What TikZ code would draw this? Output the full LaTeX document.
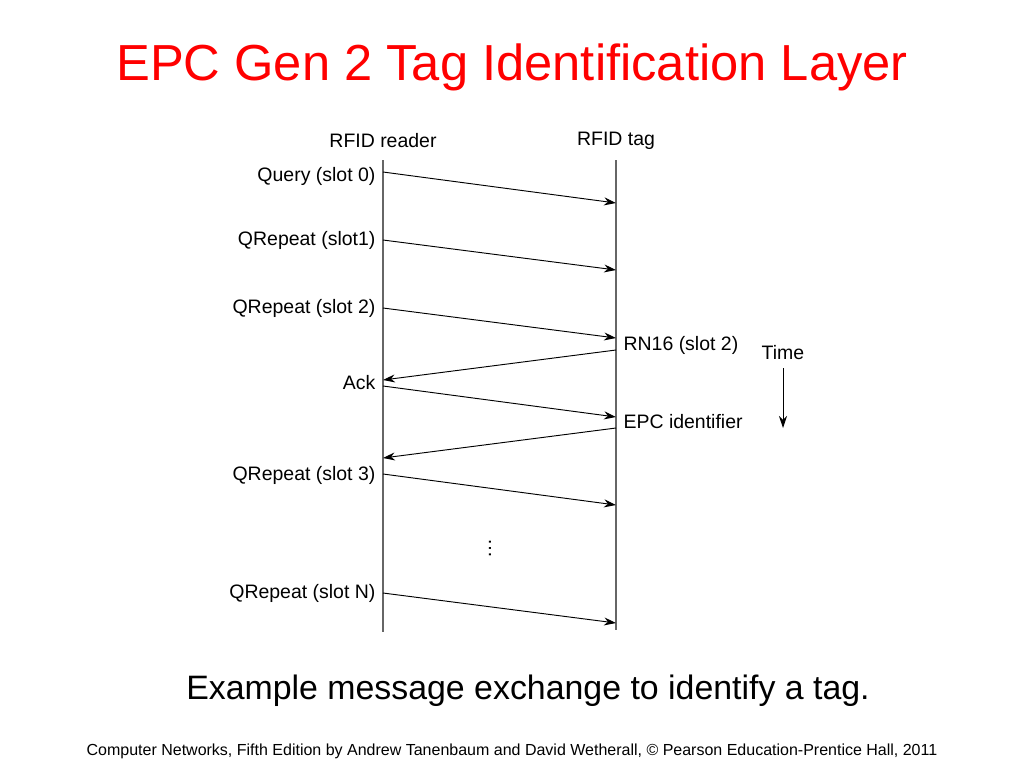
\documentclass[tikz,border=0pt]{standalone}
\usepackage{fontspec}
\setmainfont{Liberation Sans}
\usetikzlibrary{arrows.meta}
\begin{document}
\begin{tikzpicture}[x=0.75pt,y=-0.75pt,
  lbl/.style={font=\fontsize{14.6}{16}\selectfont,inner sep=1pt},
  msg/.style={-{Stealth[length=9pt,width=6pt]},line width=0.7pt},
  life/.style={line width=0.9pt,draw=gray!80!black}]
\useasboundingbox (0,0) rectangle (1024,768);
\node[text=red,font=\fontsize{38}{40}\selectfont] (title) at (512,67) {EPC Gen 2 Tag Identification Layer};
\node[lbl] (hr) at (383,141) {RFID reader};
\node[lbl] (ht) at (616,141) {RFID tag};
\coordinate (rt) at (383,160); \coordinate (rb) at (383,632);
\coordinate (tt) at (616,160); \coordinate (tb) at (616,630);
\draw[life] (rt)--(rb); \draw[life] (tt)--(tb);
\foreach \n/\a/\b in {q0/172/203,q1/240/270,q2/308/338,ack/386/417,q3/474/505,qn/593/623}{
  \coordinate (\n s) at (383,\a); \coordinate (\n e) at (616,\b);
  \draw[msg] (\n s)--(\n e);}
\foreach \n/\a/\b in {rn/350/380,epc/428/458}{
  \coordinate (\n s) at (616,\a); \coordinate (\n e) at (383,\b);
  \draw[msg] (\n s)--(\n e);}
\node[lbl,anchor=east] (l0) at (377,176) {Query (slot 0)};
\node[lbl,anchor=east] (l1) at (377,240) {QRepeat (slot1)};
\node[lbl,anchor=east] (l2) at (377,308) {QRepeat (slot 2)};
\node[lbl,anchor=east] (l3) at (377,383) {Ack};
\node[lbl,anchor=east] (l4) at (377,475) {QRepeat (slot 3)};
\node[lbl,anchor=east] (l5) at (377,593) {QRepeat (slot N)};
\node[lbl,anchor=west] (r1) at (622,345) {RN16 (slot 2)};
\node[lbl,anchor=west] (r2) at (622,422) {EPC identifier};
\node[lbl] (time) at (783,353) {Time};
\coordinate (ta) at (783,368); \coordinate (tz) at (783,428);
\draw[msg] (ta)--(tz);
\node[font=\fontsize{15}{15}\selectfont] (dots) at (490,548) {\rotatebox{90}{\dots}};
\node[font=\fontsize{25.4}{27}\selectfont] (cap) at (528,691) {Example message exchange to identify a tag.};
\node[font=\fontsize{12}{13}\selectfont] (foot) at (512,751) {Computer Networks, Fifth Edition by Andrew Tanenbaum and David Wetherall, © Pearson Education-Prentice Hall, 2011};
\end{tikzpicture}
\end{document}
